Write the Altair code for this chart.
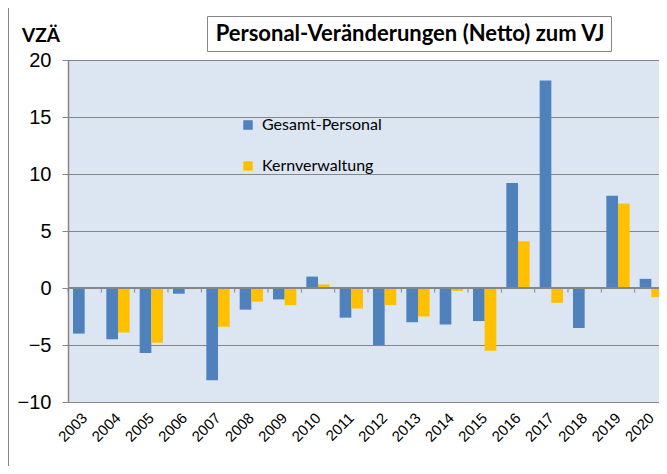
import altair as alt
import pandas as pd

years = ["2003", "2004", "2005", "2006", "2007", "2008", "2009", "2010", "2011",
         "2012", "2013", "2014", "2015", "2016", "2017", "2018", "2019", "2020"]
series = ["Gesamt-Personal", "Kernverwaltung"]
gesamt = [-4.0, -4.5, -5.7, -0.5, -8.1, -1.9, -1.0, 1.0, -2.6,
          -5.0, -3.0, -3.2, -2.9, 9.2, 18.2, -3.5, 8.1, 0.8]
kern = [None, -3.9, -4.8, -0.1, -3.4, -1.2, -1.5, 0.3, -1.8,
        -1.5, -2.5, -0.25, -5.5, 4.1, -1.3, None, 7.4, -0.8]
y_ticks = [-10, -5, 0, 5, 10, 15, 20]
title_text = "Personal-Veränderungen (Netto) zum VJ"
unit_text = "VZÄ"
colors = ["#4F81BD", "#FFC000"]

rows = []
for name, vals in zip(series, [gesamt, kern]):
    for y, v in zip(years, vals):
        if v is not None:
            rows.append({"year": y, "series": name, "value": v})
df = pd.DataFrame(rows)
df_years = pd.DataFrame({"year": years})
one = pd.DataFrame({"k": [0]})

GRAY = "#868686"

x_enc = alt.X("year:N", sort=years,
              scale=alt.Scale(paddingInner=0, paddingOuter=0, range=[0, 600]),
              axis=alt.Axis(title=None, labelAngle=315, labelAlign="right", labelBaseline="middle",
                            labelFont="Liberation Sans", labelFontSize=15, labelColor="black",
                            ticks=False, domain=False, grid=False, labelPadding=13))
y_enc = alt.Y("value:Q", scale=alt.Scale(domain=[-10, 20], nice=False, zero=False),
              axis=alt.Axis(title=None, values=y_ticks, labelFont="Liberation Sans",
                            labelFontSize=20, labelColor="black", tickSize=6, tickColor=GRAY,
                            domainColor=GRAY, domainWidth=1.5, gridColor=GRAY, gridWidth=1,
                            labelPadding=11))

bars = alt.Chart(df).mark_bar().encode(
    x=x_enc,
    y=y_enc,
    xOffset=alt.XOffset("series:N", sort=series,
                        scale=alt.Scale(paddingInner=0, paddingOuter=0.43)),
    color=alt.Color("series:N", sort=series,
                    scale=alt.Scale(domain=series, range=colors),
                    legend=alt.Legend(orient="none", legendX=172, legendY=57, title=None,
                                      symbolType="square", symbolSize=90, symbolStrokeWidth=0,
                                      labelFont="Lato", labelFontSize=16, labelColor="black",
                                      rowPadding=25, labelOffset=6, padding=0)),
)

zero_rule = alt.Chart(one).mark_rule(color=GRAY, strokeWidth=2).encode(y=alt.datum(0))

cat_ticks = alt.Chart(df_years).mark_rule(color=GRAY, strokeWidth=1).encode(
    x=alt.X("year:N", sort=years, bandPosition=0),
    y=alt.datum(0),
    y2=alt.datum(-0.4),
)

frame = alt.Chart(one).mark_rect(fill="white", fillOpacity=0, stroke=GRAY, strokeWidth=1,
                                 clip=False).encode(
    x=alt.value(-59.5), x2=alt.value(700), y=alt.value(-52.5), y2=alt.value(500))

box = alt.Chart(one).mark_rect(fill="white", stroke=GRAY, strokeWidth=1, clip=False).encode(
    x=alt.value(139.5), x2=alt.value(543.5), y=alt.value(-43.5), y2=alt.value(-8.5))

title = alt.Chart(one).mark_text(text=title_text, font="Lato", fontSize=22, fontWeight="bold",
                                 align="center", baseline="middle", color="black").encode(
    x=alt.value(342), y=alt.value(-26))

unit = alt.Chart(one).mark_text(text=unit_text, font="Lato", fontSize=19, fontWeight="bold",
                                align="left", baseline="middle", color="black").encode(
    x=alt.value(-46), y=alt.value(-24))

chart = alt.layer(frame, bars, cat_ticks, zero_rule, box, title, unit).properties(
    width=591, height=342,
    autosize=alt.AutoSizeParams(type="none"),
    padding={"left": 60, "top": 52, "right": 0, "bottom": 64},
).configure_view(fill="#DCE6F2", stroke=GRAY, strokeWidth=1)

chart.save("out.html", embed_options={"renderer": "svg", "actions": False})
